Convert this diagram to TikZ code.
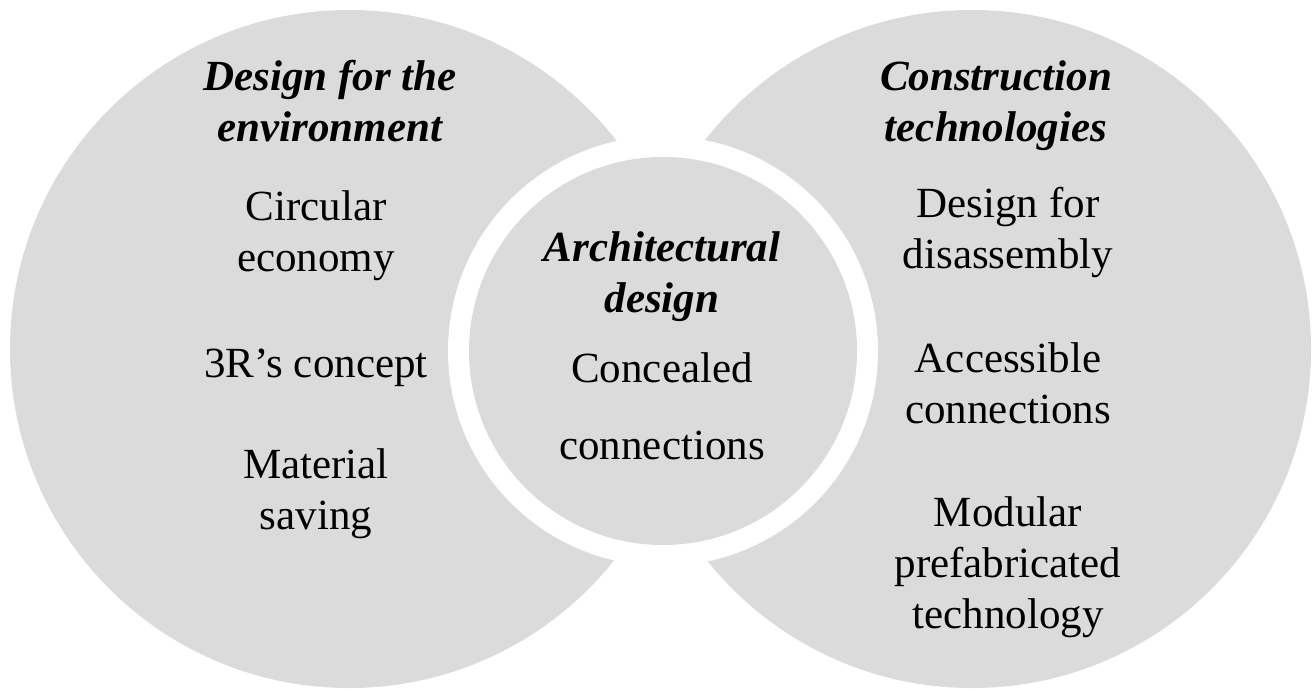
\documentclass[tikz,border=0pt]{standalone}
\usepackage{fontspec}
\setmainfont{Liberation Serif}
\definecolor{discgray}{RGB}{219,219,219}
\tikzset{
    disc/.style={
           circle,
           fill=discgray,
           draw=none,
           inner sep=0pt,
           },
    heading/.style={
           align=center,
           anchor=base,
           inner sep=0pt,
           font=\fontsize{43}{51}\selectfont\bfseries\itshape,
           },
    item/.style={
           align=center,
           anchor=base,
           inner sep=0pt,
           font=\fontsize{43}{51}\selectfont,
           },
}
\begin{document}
\begin{tikzpicture}[x=1pt,y=-1pt]
      \path[use as bounding box, fill=white] (0,0) rectangle (1313,690);
      % outer discs
      \node[disc, minimum size=678pt] (env)  at (349,349) {};
      \node[disc, minimum size=678pt] (tech) at (972,349) {};
      % white ring and middle disc
      \node[circle, fill=white, inner sep=0pt, minimum size=430pt] (ring) at (663,351) {};
      \node[disc, minimum size=388pt] (arch) at (663,351) {};
      % left texts (y is the last baseline)
      \node[heading] (env_head) at (330,141) {Design for the\\environment};
      \node[item] (env_a) at (316,271) {Circular\\economy};
      \node[item] (env_b) at (316,377) {3R’s concept};
      \node[item] (env_c) at (316,529) {Material\\saving};
      % middle texts
      \node[heading] (arch_head) at (662,312) {Architectural\\design};
      \node[item] (arch_a) at (662,459) {Concealed\\[26pt]connections};
      % right texts
      \node[heading] (tech_head) at (996,141) {Construction\\technologies};
      \node[item] (tech_a) at (1008,268) {Design for\\disassembly};
      \node[item] (tech_b) at (1008,423) {Accessible\\connections};
      \node[item] (tech_c) at (1008,628) {Modular\\prefabricated\\technology};
\end{tikzpicture}
\end{document}
